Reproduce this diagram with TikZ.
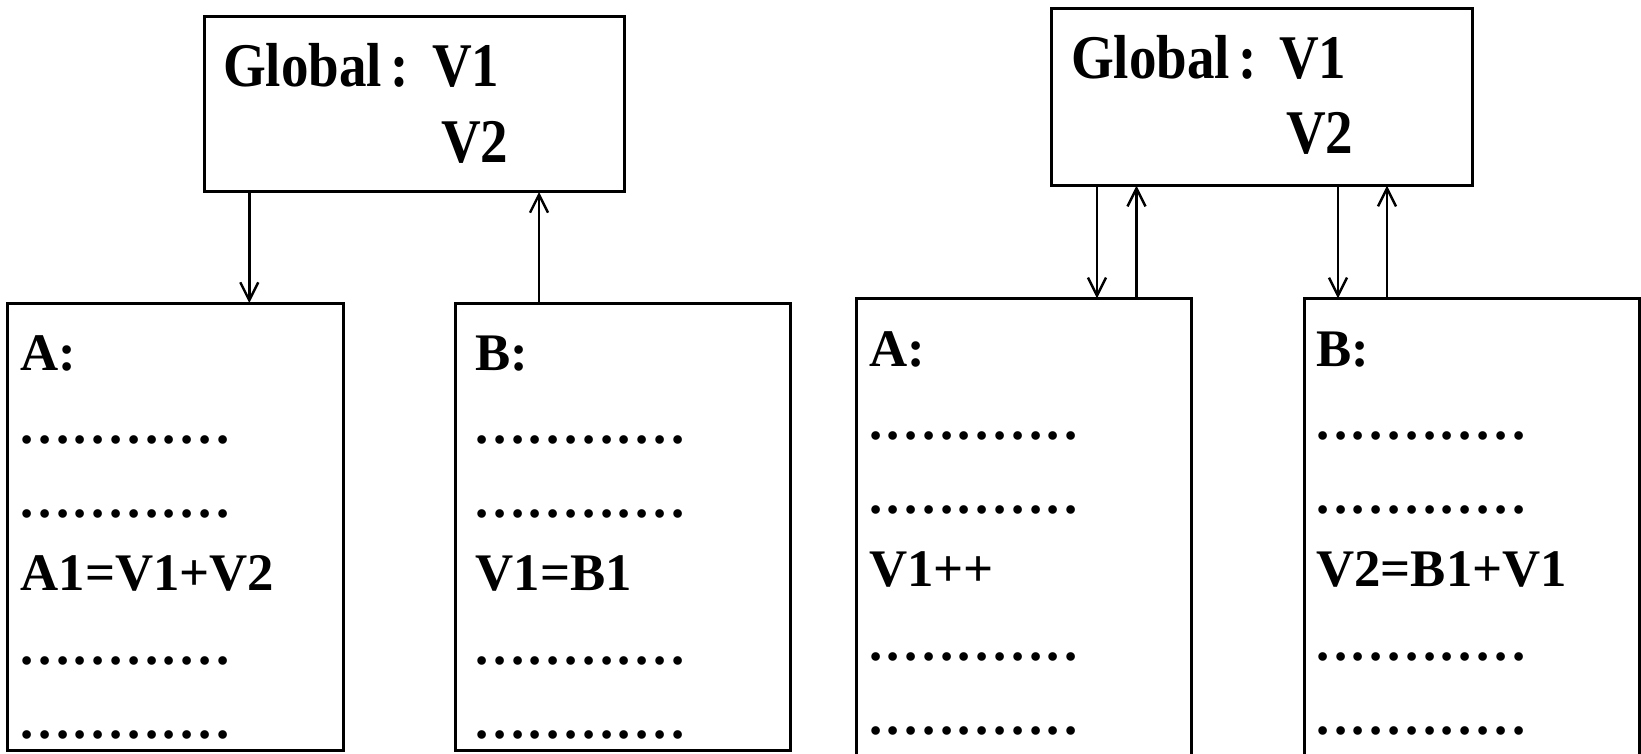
\documentclass[tikz,border=0pt]{standalone}
\usepackage{fontspec}
\setmainfont{Liberation Serif}
\usepackage{graphicx}
\usetikzlibrary{arrows.meta}
\newcommand\dk{\kern4.6pt}
\newcommand\dotrow{.\dk.\dk.\dk.\dk.\dk.\dk.\dk.\dk.\dk.\dk.\dk.}
\newcommand\gstretch[1]{\scalebox{1}[1.13]{\spaceskip=9pt\relax #1}}
\begin{document}
\begin{tikzpicture}[x=1pt,y=-1pt,
  box/.style={draw, line width=3pt, rectangle, inner sep=0pt, outer sep=0pt},
  link/.style={line width=2.4pt, -{Straight Barb[length=18pt,width=18pt]}},
  txt/.style={anchor=base west, inner sep=0pt, outer sep=0pt,
              font=\bfseries\fontsize{52.8}{60}\selectfont},
  gtxt/.style={anchor=base west, inner sep=0pt, outer sep=0pt,
              font=\bfseries\fontsize{55}{60}\selectfont}]
\clip (0,0) rectangle (1641,754);
\fill[white] (0,0) rectangle (1641,754);

% ---------- left diagram ----------
\node[box, minimum width=420pt, minimum height=175.5pt] (gL) at (414,104.25) {};
\node[box, minimum width=336.2pt, minimum height=447pt] (A1) at (175.4,526.5) {};
\node[box, minimum width=335.7pt, minimum height=446.7pt] (B1) at (622.85,526.65) {};

\node[gtxt] (gLa) at (223,87) {\gstretch{Global :}};
\node[gtxt] (gLb) at (432,87) {\gstretch{V1}};
\node[gtxt] (gLc) at (441,163) {\gstretch{V2}};

\node[txt] (a1r0) at (20.5,370) {A:};
\node[txt] (a1r1) at (20.5,443.6) {\dotrow};
\node[txt] (a1r2) at (20.5,517.2) {\dotrow};
\node[txt] (a1r3) at (20.5,590.8) {A1=V1+V2};
\node[txt] (a1r4) at (20.5,664.4) {\dotrow};
\node[txt] (a1r5) at (20.5,738) {\dotrow};

\node[txt] (b1r0) at (475.5,370) {B:};
\node[txt] (b1r1) at (475.5,443.6) {\dotrow};
\node[txt] (b1r2) at (475.5,517.2) {\dotrow};
\node[txt] (b1r3) at (475.5,590.8) {V1=B1};
\node[txt] (b1r4) at (475.5,664.4) {\dotrow};
\node[txt] (b1r5) at (475.5,738) {\dotrow};

\coordinate (xa) at (249.3,0);
\coordinate (xb) at (539,0);
\draw[link] (gL.south -| xa) -- (A1.north -| xa);
\draw[link] (B1.north -| xb) -- (gL.south -| xb);

% ---------- right diagram ----------
\node[box, minimum width=421pt, minimum height=177.4pt] (gR) at (1261.5,97) {};
\node[box, minimum width=335.7pt, minimum height=601.7pt] (A2) at (1023.85,599.15) {};
\node[box, minimum width=335pt, minimum height=601.7pt] (B2) at (1471.5,599.15) {};

\node[gtxt] (gRa) at (1071,78.3) {\gstretch{Global :}};
\node[gtxt] (gRb) at (1279,78.3) {\gstretch{V1}};
\node[gtxt] (gRc) at (1286,154) {\gstretch{V2}};

\node[txt] (a2r0) at (869,366) {A:};
\node[txt] (a2r1) at (869,439.6) {\dotrow};
\node[txt] (a2r2) at (869,513.2) {\dotrow};
\node[txt] (a2r3) at (869,586.8) {V1++};
\node[txt] (a2r4) at (869,660.4) {\dotrow};
\node[txt] (a2r5) at (869,734) {\dotrow};

\node[txt] (b2r0) at (1316.3,366) {B:};
\node[txt] (b2r1) at (1316.3,439.6) {\dotrow};
\node[txt] (b2r2) at (1316.3,513.2) {\dotrow};
\node[txt] (b2r3) at (1316.3,586.8) {V2=B1+V1};
\node[txt] (b2r4) at (1316.3,660.4) {\dotrow};
\node[txt] (b2r5) at (1316.3,734) {\dotrow};

\coordinate (xc) at (1097,0);
\coordinate (xd) at (1136.5,0);
\coordinate (xe) at (1338,0);
\coordinate (xf) at (1387,0);
\draw[link] (gR.south -| xc) -- (A2.north -| xc);
\draw[link] (A2.north -| xd) -- (gR.south -| xd);
\draw[link] (gR.south -| xe) -- (B2.north -| xe);
\draw[link] (B2.north -| xf) -- (gR.south -| xf);
\end{tikzpicture}
\end{document}
